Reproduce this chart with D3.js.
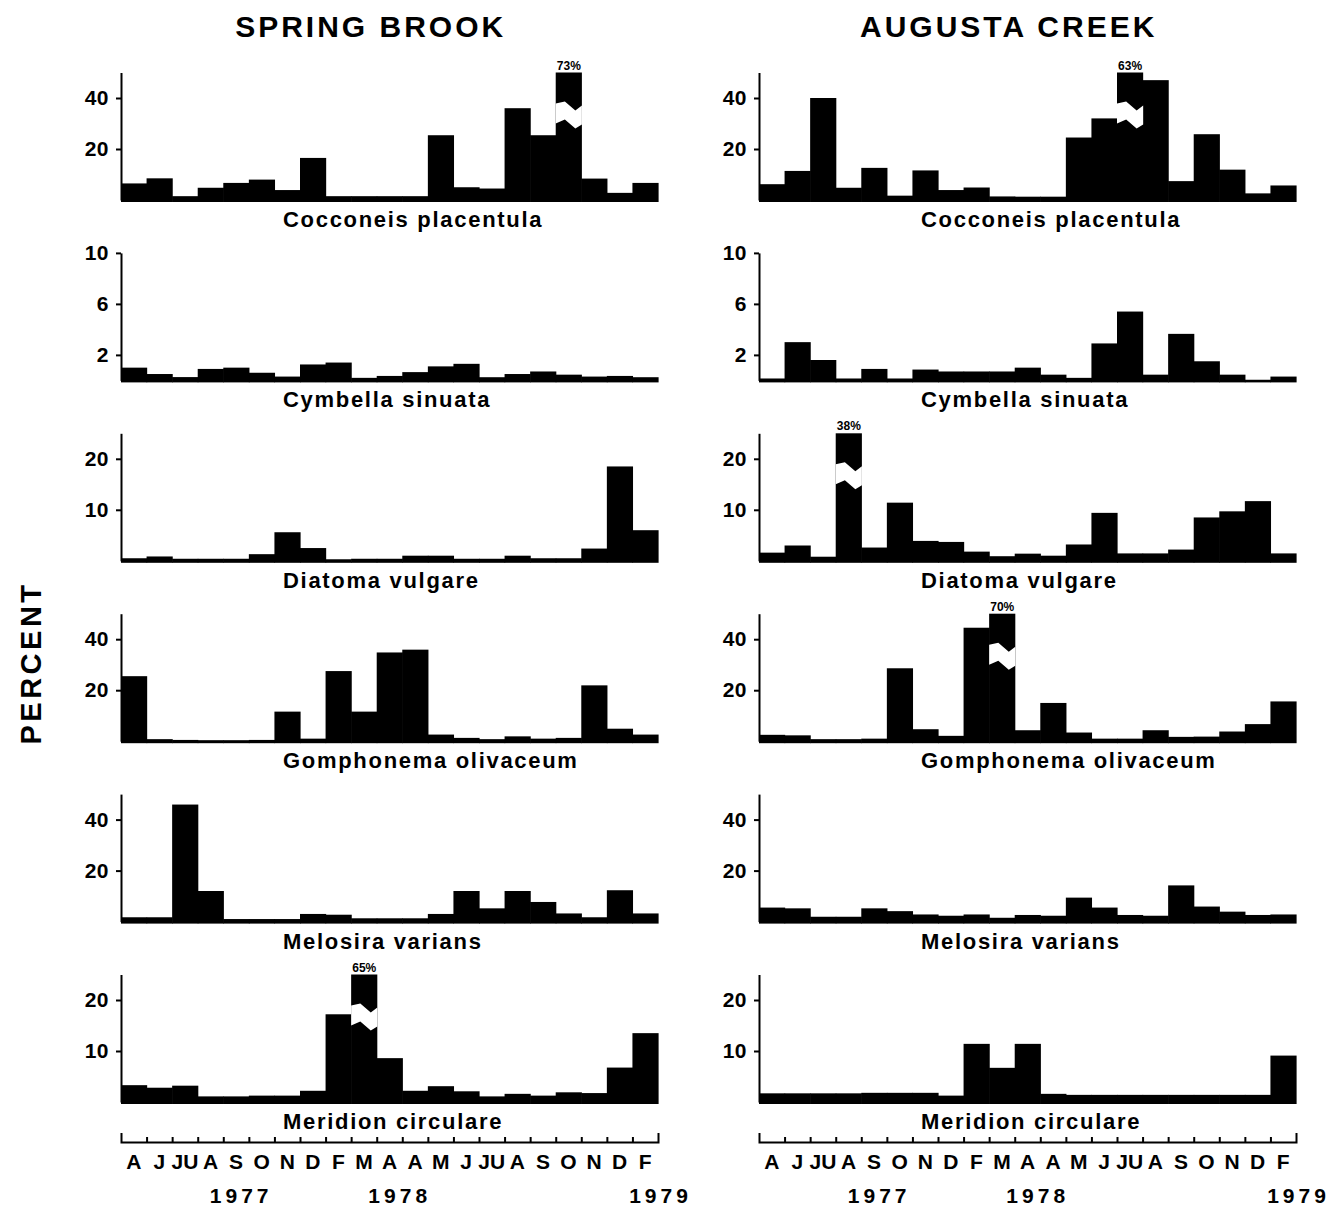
<!DOCTYPE html>
<html>
<head>
<meta charset="utf-8">
<script src="https://cdn.jsdelivr.net/npm/d3@7"></script>
<style>
  body { margin: 0; background: #fff; }
  text { font-family: "Liberation Sans", Arial, sans-serif; font-weight: bold; fill: #000; }
</style>
</head>
<body>
<div id="chart"></div>
<script>
// Month labels, one for each sampling interval
var monthLabels = ["A", "J", "JU", "A", "S", "O", "N", "D", "F", "M", "A",
                   "A", "M", "J", "JU", "A", "S", "O", "N", "D", "F"];
var yearLabels = ["1977", "1978", "1979"];
var yearAt = [4.7, 10.9, 21.1];   // in months from the first sample

var siteNames = ["SPRING BROOK", "AUGUSTA CREEK"];
var speciesNames = ["Cocconeis placentula", "Cymbella sinuata", "Diatoma vulgare",
                    "Gomphonema olivaceum", "Melosira varians", "Meridion circulare"];
var speciesMax = [50, 10, 25, 50, 50, 25];
var speciesTicks = [[20, 40], [2, 6, 10], [10, 20], [20, 40], [20, 40], [10, 20]];

// Percent of each species, Spring Brook
var springCocconeis = [6.5, 8.5, 1.5, 4.8, 6.7, 8, 3.9, 16.5, 1.5, 1.5, 1.5, 1.5, 25.4, 5, 4.5, 36, 25.4, 73, 8.4, 2.8, 6.7];
var springCymbella = [1.0, 0.5, 0.26, 0.9, 1.0, 0.6, 0.3, 1.25, 1.4, 0.2, 0.35, 0.65, 1.1, 1.3, 0.25, 0.5, 0.7, 0.45, 0.3, 0.35, 0.25];
var springDiatoma = [0.5, 0.85, 0.4, 0.4, 0.4, 1.3, 5.6, 2.5, 0.3, 0.4, 0.4, 1.0, 1.0, 0.4, 0.4, 1.0, 0.5, 0.5, 2.4, 18.5, 6];
var springGomphonema = [25.5, 0.8, 0.5, 0.4, 0.4, 0.5, 11.6, 1.0, 27.5, 11.6, 34.8, 35.9, 2.6, 1.3, 0.8, 1.9, 1.0, 1.3, 21.9, 4.9, 2.6];
var springMelosira = [1.7, 1.7, 45.9, 12, 1.0, 1.0, 1.0, 3.0, 2.7, 1.3, 1.3, 1.3, 3.0, 12, 5.2, 12, 7.7, 3.2, 1.7, 12.3, 3.2];
var springMeridion = [3.3, 2.8, 3.2, 1.1, 1.1, 1.25, 1.25, 2.2, 17.2, 65, 8.6, 2.2, 3.1, 2.1, 1.1, 1.6, 1.25, 1.9, 1.75, 6.75, 13.5];

// Percent of each species, Augusta Creek
var augustaCocconeis = [6.2, 11.4, 40, 4.8, 12.6, 1.7, 11.6, 3.9, 4.9, 1.4, 1.3, 1.3, 24.5, 32, 63, 47, 7.4, 25.8, 11.9, 2.6, 5.7];
var augustaCymbella = [0.15, 3.0, 1.6, 0.15, 0.9, 0.15, 0.85, 0.7, 0.7, 0.7, 1.0, 0.45, 0.2, 2.9, 5.4, 0.45, 3.65, 1.5, 0.45, 0.05, 0.3];
var augustaDiatoma = [1.6, 3.0, 0.8, 38, 2.6, 11.4, 3.9, 3.7, 1.8, 0.9, 1.4, 1.0, 3.2, 9.4, 1.45, 1.45, 2.2, 8.5, 9.7, 11.7, 1.45];
var augustaGomphonema = [2.5, 2.3, 0.8, 0.8, 1.0, 28.6, 4.7, 2.1, 44.5, 70, 4.3, 15, 3.4, 1.0, 1.0, 4.3, 1.7, 1.8, 3.8, 6.7, 15.6];
var augustaMelosira = [5.5, 5.2, 1.9, 1.9, 5.2, 4.1, 2.8, 2.3, 2.8, 1.5, 2.6, 2.3, 9.4, 5.5, 2.6, 2.3, 14.2, 5.9, 3.9, 2.6, 2.8];
var augustaMeridion = [1.7, 1.7, 1.7, 1.7, 1.8, 1.8, 1.8, 1.25, 11.4, 6.7, 11.4, 1.6, 1.4, 1.4, 1.4, 1.4, 1.4, 1.4, 1.4, 1.4, 9.1];

var siteData = [
  [springCocconeis, springCymbella, springDiatoma, springGomphonema, springMelosira, springMeridion],
  [augustaCocconeis, augustaCymbella, augustaDiatoma, augustaGomphonema, augustaMelosira, augustaMeridion]
];

// Layout
var svgWidth = 1336;
var svgHeight = 1215;
var colLeft = [121, 759];
var plotWidth = 537;
var plotHeight = 127.5;
var firstBase = 200;
var rowStep = 180.4;
var axisY = 1142;

var svg = d3.select("#chart")
  .append("svg")
  .attr("width", svgWidth)
  .attr("height", svgHeight);

// Column titles
siteNames.forEach(function(name, c) {
  svg.append("text")
    .attr("x", colLeft[c] + plotWidth * 0.465)
    .attr("y", 37)
    .attr("text-anchor", "middle")
    .attr("font-size", 30)
    .attr("letter-spacing", 3)
    .text(name);
});

// Y label
svg.append("text")
  .attr("transform", "translate(41, 663) rotate(-90)")
  .attr("text-anchor", "middle")
  .attr("font-size", 29)
  .attr("letter-spacing", 3.5)
  .text("PERCENT");

var x = d3.scaleBand()
  .domain(d3.range(monthLabels.length))
  .range([0, plotWidth])
  .padding(0);

siteData.forEach(function(series, c) {
  series.forEach(function(values, r) {
    var maxV = speciesMax[r];
    var g = svg.append("g")
      .attr("transform", `translate(${colLeft[c]}, ${firstBase + r * rowStep - plotHeight})`);

    var y = d3.scaleLinear()
      .domain([0, maxV])
      .range([plotHeight, 0]);

    // bars (values above the axis are drawn to the top and broken)
    g.selectAll("rect.bar")
      .data(values)
      .enter()
      .append("rect")
      .attr("class", "bar")
      .attr("x", function(d, i) { return x(i); })
      .attr("y", function(d) { return y(Math.min(d, maxV)); })
      .attr("width", x.bandwidth() + 0.6)
      .attr("height", function(d) { return plotHeight - y(Math.min(d, maxV)) + 2; })
      .attr("fill", "#000");

    var broken = values.map(function(d, i) { return {v: d, i: i}; })
      .filter(function(d) { return d.v > maxV; });

    // white zigzag gap across broken bars
    broken.forEach(function(d) {
      var a = x(d.i), w = x.bandwidth() + 0.6;
      var lo = y(maxV * 0.6);
      var pts = [
        [a, lo], [a + w * 0.35, lo - 4], [a + w * 0.75, lo + 5], [a + w, lo + 1],
        [a + w, lo - 18], [a + w * 0.75, lo - 13], [a + w * 0.35, lo - 22], [a, lo - 20]
      ];
      g.append("polygon")
        .attr("points", pts.map(function(p) { return p.join(","); }).join(" "))
        .attr("fill", "#fff");
      g.append("text")
        .attr("x", a + w / 2)
        .attr("y", y(maxV) - 3)
        .attr("text-anchor", "middle")
        .attr("font-size", 12)
        .text(d.v + "%");
    });

    var leftAxis = d3.axisLeft(y)
      .tickValues(speciesTicks[r])
      .tickSize(5)
      .tickSizeOuter(0)
      .tickPadding(7);

    var yAxis = g.append("g").call(leftAxis);
    yAxis.selectAll("path, line").attr("stroke", "#000").attr("stroke-width", 2);
    yAxis.selectAll("text")
      .attr("font-size", 21)
      .attr("letter-spacing", 0.5)
      .style("font-family", "'Liberation Sans', Arial, sans-serif")
      .style("font-weight", "bold");

    g.append("text")
      .attr("x", 162)
      .attr("y", plotHeight + 27)
      .attr("font-size", 22)
      .attr("letter-spacing", 1.7)
      .text(speciesNames[r]);
  });

  // bottom month axis
  var xe = d3.scaleLinear().domain([0, monthLabels.length]).range([0, plotWidth]);
  var ga = svg.append("g").attr("transform", `translate(${colLeft[c]}, ${axisY})`);
  var bottomAxis = d3.axisBottom(xe)
    .tickValues(d3.range(1, monthLabels.length))
    .tickSize(-5)
    .tickSizeOuter(-9)
    .tickFormat("");
  ga.call(bottomAxis);
  ga.selectAll("path, line").attr("stroke", "#000").attr("stroke-width", 2);

  ga.selectAll("text.month")
    .data(monthLabels)
    .enter()
    .append("text")
    .attr("class", "month")
    .attr("x", function(d, i) { return x(i) + x.bandwidth() / 2; })
    .attr("y", 27)
    .attr("text-anchor", "middle")
    .attr("font-size", 21)
    .text(function(d) { return d; });

  ga.selectAll("text.year")
    .data(yearLabels)
    .enter()
    .append("text")
    .attr("class", "year")
    .attr("x", function(d, i) { return xe(yearAt[i]); })
    .attr("y", 61)
    .attr("text-anchor", "middle")
    .attr("font-size", 21)
    .attr("letter-spacing", 4)
    .text(function(d) { return d; });
});
</script>
</body>
</html>
